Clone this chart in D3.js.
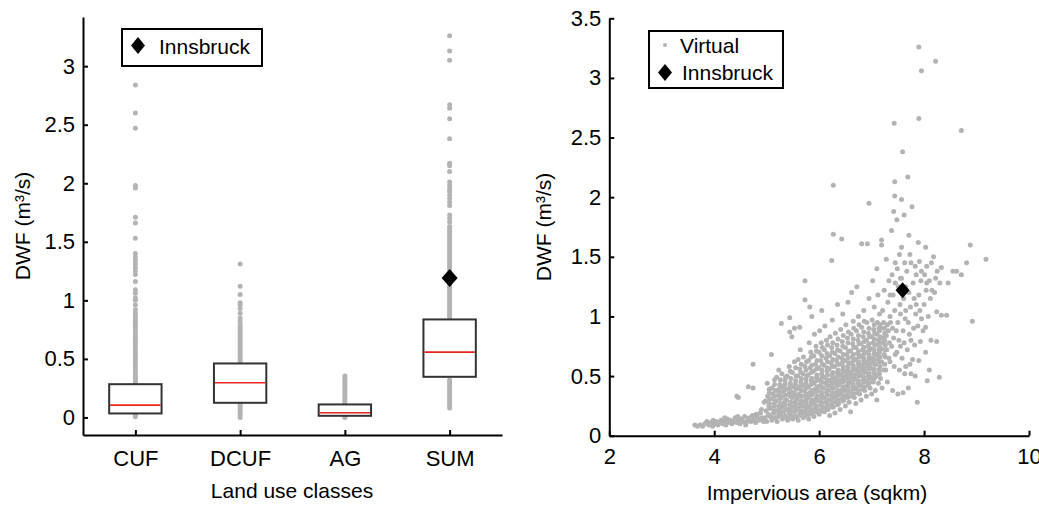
<!DOCTYPE html>
<html>
<head>
<meta charset="utf-8">
<script src="https://cdn.jsdelivr.net/npm/d3@7"></script>
<style>
    body { margin: 0; background: #fff; }
    svg text { font-family: Arial, "Liberation Sans", Helvetica, sans-serif; }
</style>
</head>
<body>
<svg id="chart" width="1039" height="506"></svg>
<script>

// ---- left panel: box plot per land use class
var categories = ["CUF", "DCUF", "AG", "SUM"];
var boxQ1 = [0.034, 0.125, 0.014, 0.347];
var boxMedian = [0.105, 0.296, 0.040, 0.558];
var boxQ3 = [0.284, 0.461, 0.111, 0.837];

// grey points outside the boxes, one list per class
var cufPoints = [0.005, 0.015, 0.025, 0.03,
    0.29, 0.31, 0.33, 0.35, 0.37, 0.39, 0.41, 0.43, 0.45, 0.47, 0.49, 0.51, 0.53, 0.55, 0.57, 0.59,
    0.61, 0.63, 0.65, 0.67, 0.69, 0.71, 0.73, 0.75, 0.77, 0.79, 0.81, 0.83, 0.85, 0.87, 0.89,
    0.92, 0.96, 1.00, 1.02, 1.06, 1.09, 1.16, 1.22, 1.25, 1.28, 1.31, 1.34, 1.37, 1.40,
    1.53, 1.66, 1.71, 1.96, 1.98, 2.47, 2.60, 2.84];
var dcufPoints = [0.0, 0.02, 0.04, 0.06, 0.08, 0.10, 0.12,
    0.47, 0.49, 0.51, 0.53, 0.55, 0.57, 0.59, 0.61, 0.63, 0.65, 0.67, 0.69, 0.71, 0.73, 0.75, 0.77, 0.79,
    0.82, 0.85, 0.89, 0.93, 0.96, 0.98, 1.05, 1.12, 1.31];
var agPoints = [0.0, 0.008,
    0.12, 0.14, 0.16, 0.18, 0.20, 0.22, 0.24, 0.26, 0.28, 0.30, 0.32, 0.34, 0.353];
var sumPoints = [0.08, 0.10, 0.12, 0.14, 0.16, 0.18, 0.20, 0.22, 0.24, 0.26, 0.28, 0.30, 0.32,
    0.85, 0.87, 0.89, 0.91, 0.93, 0.95, 0.97, 0.99, 1.01, 1.03, 1.05, 1.07, 1.09, 1.11, 1.13, 1.15,
    1.17, 1.19, 1.21, 1.23, 1.25, 1.27, 1.29, 1.31, 1.33, 1.35, 1.37, 1.39, 1.41, 1.43, 1.45, 1.47,
    1.49, 1.51, 1.53, 1.55, 1.57, 1.59, 1.61, 1.63,
    1.67, 1.70, 1.73, 1.81, 1.84, 1.87, 1.90, 1.93, 1.95, 1.98, 2.01, 2.10, 2.15, 2.17,
    2.38, 2.55, 2.64, 2.67, 3.05, 3.13, 3.26];
var classPoints = [cufPoints, dcufPoints, agPoints, sumPoints];

var innsbruckClass = "SUM";
var innsbruckDwf = 1.19;
var innsbruckArea = 7.59;
var innsbruckDwfRight = 1.22;

var boxTicks = [0, 0.5, 1, 1.5, 2, 2.5, 3];
var dwfTicks = [0, 0.5, 1, 1.5, 2, 2.5, 3, 3.5];
var areaTicks = [2, 4, 6, 8, 10];

// ---- right panel: virtual catchments [impervious area, DWF]
var virtualPoints = [
    [3.63,0.09],[3.68,0.08],[3.73,0.09],[3.78,0.08],[3.82,0.10],[3.86,0.12],[3.90,0.09],[3.94,0.11],
    [3.97,0.08],[3.98,0.13],[4.01,0.10],[4.04,0.12],[4.07,0.09],[4.10,0.11],[4.13,0.13],[4.16,0.10],
    [4.19,0.12],[4.20,0.15],[4.22,0.09],[4.25,0.14],[4.28,0.11],[4.31,0.13],[4.34,0.10],[4.37,0.12],
    [4.40,0.15],[4.43,0.11],[4.45,0.16],[4.46,0.13],[4.49,0.10],[4.50,0.12],[4.52,0.14],[4.55,0.12],
    [4.58,0.16],[4.60,0.09],[4.61,0.11],[4.64,0.13],[4.67,0.15],[4.70,0.12],[4.73,0.17],[4.76,0.14],
    [4.79,0.11],[4.80,0.18],[4.82,0.16],[4.85,0.13],[4.88,0.19],[4.91,0.15],[4.94,0.12],
    [4.43,0.33],[4.46,0.32],[4.65,0.41],[4.74,0.40],[4.74,0.60],[4.90,0.22],[4.95,0.28],
    [5.00,0.12],[4.97,0.15],[5.03,0.18],[4.99,0.21],[5.04,0.25],[4.98,0.29],[5.02,0.33],[5.05,0.36],[5.01,0.44],
    [5.10,0.13],[5.07,0.16],[5.13,0.19],[5.09,0.23],[5.14,0.27],[5.08,0.31],[5.12,0.35],[5.10,0.40],[5.15,0.47],[5.09,0.68],
    [5.20,0.12],[5.17,0.15],[5.23,0.18],[5.19,0.21],[5.24,0.25],[5.18,0.29],[5.22,0.34],[5.20,0.38],[5.25,0.43],[5.19,0.49],[5.23,0.55],
    [5.30,0.14],[5.27,0.17],[5.33,0.20],[5.29,0.24],[5.34,0.28],[5.28,0.32],[5.32,0.37],[5.30,0.41],[5.35,0.46],[5.29,0.52],[5.28,0.94],
    [5.40,0.13],[5.37,0.16],[5.43,0.19],[5.39,0.22],[5.44,0.26],[5.38,0.30],[5.42,0.35],[5.40,0.39],[5.45,0.44],[5.39,0.50],[5.43,0.58],[5.44,0.87],[5.44,0.99],
    [5.50,0.14],[5.47,0.17],[5.53,0.20],[5.49,0.24],[5.54,0.28],[5.48,0.32],[5.52,0.36],[5.50,0.41],[5.55,0.46],[5.49,0.53],[5.53,0.62],[5.48,0.83],[5.53,0.90],
    [5.60,0.13],[5.57,0.16],[5.63,0.19],[5.59,0.23],[5.64,0.27],[5.58,0.31],[5.62,0.35],[5.60,0.40],[5.65,0.45],[5.59,0.50],[5.63,0.56],[5.60,0.64],[5.64,0.72],[5.63,0.91],
    [5.70,0.15],[5.67,0.18],[5.73,0.21],[5.69,0.25],[5.74,0.29],[5.68,0.33],[5.72,0.38],[5.70,0.42],[5.75,0.47],[5.69,0.52],[5.73,0.58],[5.70,0.66],[5.73,1.14],[5.73,1.30],
    [5.80,0.14],[5.77,0.17],[5.83,0.20],[5.79,0.24],[5.84,0.28],[5.78,0.32],[5.82,0.36],[5.80,0.41],[5.85,0.46],[5.79,0.51],[5.83,0.57],[5.80,0.63],[5.84,0.70],[5.81,0.78],[5.82,1.08],
    [5.90,0.16],[5.87,0.19],[5.93,0.23],[5.89,0.27],[5.94,0.31],[5.88,0.35],[5.92,0.39],[5.90,0.44],[5.95,0.49],[5.89,0.54],[5.93,0.60],[5.90,0.67],[5.94,0.75],[5.91,0.85],[5.86,1.00],
    [6.00,0.18],[5.97,0.22],[6.03,0.26],[5.99,0.30],[6.04,0.34],[5.98,0.38],[6.02,0.42],[6.00,0.47],[6.05,0.52],[5.99,0.57],[6.03,0.63],[6.00,0.70],[6.04,0.78],[6.01,0.88],[6.05,1.05],
    [6.10,0.20],[6.07,0.24],[6.13,0.28],[6.09,0.32],[6.14,0.36],[6.08,0.40],[6.12,0.44],[6.10,0.49],[6.15,0.54],[6.09,0.59],[6.13,0.65],[6.10,0.72],[6.14,0.80],[6.11,0.92],
    [6.20,0.17],[6.17,0.22],[6.23,0.26],[6.19,0.30],[6.24,0.34],[6.18,0.38],[6.22,0.42],[6.20,0.46],[6.25,0.51],[6.19,0.56],[6.23,0.61],[6.20,0.67],[6.24,0.74],[6.21,0.83],[6.25,0.97],[6.24,1.47],
    [6.30,0.19],[6.27,0.24],[6.33,0.28],[6.29,0.32],[6.34,0.36],[6.28,0.40],[6.32,0.44],[6.30,0.48],[6.35,0.53],[6.29,0.58],[6.33,0.63],[6.30,0.69],[6.34,0.76],[6.31,0.86],[6.35,1.10],[6.27,1.69],[6.27,2.10],
    [6.40,0.22],[6.37,0.27],[6.43,0.31],[6.39,0.35],[6.44,0.39],[6.38,0.43],[6.42,0.47],[6.40,0.51],[6.45,0.55],[6.39,0.60],[6.43,0.65],[6.40,0.71],[6.44,0.79],[6.41,0.89],[6.45,1.02],[6.43,1.65],
    [6.50,0.25],[6.47,0.30],[6.53,0.34],[6.49,0.38],[6.54,0.42],[6.48,0.46],[6.52,0.50],[6.50,0.54],[6.55,0.58],[6.49,0.63],[6.53,0.68],[6.50,0.74],[6.54,0.82],[6.51,0.93],[6.55,1.12],
    [6.60,0.20],[6.57,0.28],[6.63,0.33],[6.59,0.37],[6.64,0.41],[6.58,0.45],[6.62,0.49],[6.60,0.53],[6.65,0.57],[6.59,0.61],[6.63,0.66],[6.60,0.71],[6.64,0.77],[6.61,0.85],[6.65,0.96],[6.62,1.20],
    [6.70,0.27],[6.67,0.32],[6.73,0.36],[6.69,0.40],[6.74,0.44],[6.68,0.48],[6.72,0.52],[6.70,0.56],[6.75,0.60],[6.69,0.64],[6.73,0.69],[6.70,0.74],[6.74,0.80],[6.71,0.88],[6.75,1.00],[6.72,1.25],
    [6.80,0.30],[6.77,0.35],[6.83,0.39],[6.79,0.43],[6.84,0.47],[6.78,0.51],[6.82,0.55],[6.80,0.59],[6.85,0.63],[6.79,0.67],[6.83,0.72],[6.80,0.77],[6.84,0.83],[6.81,0.91],[6.85,1.05],[6.81,1.61],
    [6.90,0.33],[6.87,0.38],[6.93,0.42],[6.89,0.46],[6.94,0.50],[6.88,0.54],[6.92,0.58],[6.90,0.62],[6.95,0.66],[6.89,0.70],[6.93,0.75],[6.90,0.80],[6.94,0.86],[6.91,0.95],[6.95,1.15],[6.92,1.61],
    [7.00,0.35],[6.97,0.40],[7.03,0.45],[6.99,0.49],[7.04,0.53],[6.98,0.57],[7.02,0.61],[7.00,0.65],[7.05,0.69],[6.99,0.73],[7.03,0.78],[7.00,0.83],[7.04,0.89],[7.01,0.97],[7.05,1.08],[7.02,1.30],[6.95,1.95],
    [7.10,0.30],[7.07,0.38],[7.13,0.44],[7.09,0.50],[7.14,0.55],[7.08,0.60],[7.12,0.64],[7.10,0.68],[7.15,0.72],[7.09,0.76],[7.13,0.80],[7.10,0.85],[7.14,0.90],[7.11,0.95],[7.15,1.02],[7.12,1.18],[7.10,1.40],
    [7.20,0.40],[7.17,0.48],[7.23,0.55],[7.19,0.62],[7.24,0.68],[7.18,0.73],[7.22,0.78],[7.20,0.82],[7.25,0.86],[7.19,0.90],[7.23,0.95],[7.21,1.05],[7.24,1.22],[7.19,1.60],[7.19,1.64],
    [7.30,0.45],[7.27,0.55],[7.33,0.65],[7.29,0.72],[7.34,0.78],[7.28,0.84],[7.32,0.88],[7.30,0.93],[7.35,1.00],[7.31,1.12],[7.33,1.30],[7.28,1.48],
    [7.40,0.38],[7.43,0.58],[7.38,0.75],[7.42,0.82],[7.40,0.90],[7.44,1.05],[7.41,1.18],[7.39,1.35],[7.38,1.72],[7.42,1.88],[7.44,2.01],[7.44,2.13],[7.43,2.62],
    [7.50,0.35],[7.53,0.55],[7.48,0.70],[7.52,0.80],[7.50,0.95],[7.54,1.10],[7.51,1.25],[7.49,1.40],[7.53,1.52],[7.48,1.81],
    [7.60,0.36],[7.63,0.52],[7.58,0.65],[7.62,0.78],[7.60,0.88],[7.64,0.98],[7.61,1.15],[7.57,1.32],[7.63,1.45],[7.57,1.58],[7.62,1.85],[7.57,1.98],[7.59,2.38],
    [7.70,0.40],[7.73,0.60],[7.68,0.72],[7.72,0.85],[7.70,0.95],[7.74,1.08],[7.71,1.20],[7.67,1.38],[7.73,1.52],[7.71,1.68],[7.69,2.17],
    [7.87,0.28],[7.83,0.50],[7.78,0.64],[7.82,0.76],[7.80,0.90],[7.84,1.02],[7.81,1.15],[7.79,1.28],[7.83,1.42],[7.77,1.92],
    [7.90,0.63],[7.93,0.79],[7.88,0.92],[7.92,1.05],[7.90,1.18],[7.94,1.30],[7.91,1.46],[7.89,1.62],[7.90,2.66],[7.90,3.26],
    [8.06,0.46],[8.03,0.70],[7.98,0.88],[8.03,0.91],[8.00,1.10],[8.04,1.22],[8.01,1.35],[8.03,1.58],[7.95,3.06],
    [8.10,0.55],[8.13,0.80],[8.08,1.00],[8.12,1.15],[8.10,1.30],[8.14,1.45],
    [8.24,0.79],[8.24,1.04],[8.20,1.20],[8.22,1.32],[8.18,1.50],[8.22,3.14],
    [8.29,0.49],[8.33,1.01],[8.30,1.28],[8.33,1.41],[8.43,1.01],[8.46,1.28],
    [8.55,1.38],[8.62,1.38],[8.71,1.35],[8.71,2.56],[8.81,1.45],[8.92,0.96],[8.88,1.60],[9.18,1.48]
];

// the dense core of the cloud, read strip by strip between the points above
var virtualCore = [
    [5.05,0.17],[5.06,0.23],[5.05,0.27],[5.06,0.31],[5.05,0.39],
    [5.15,0.15],[5.16,0.21],[5.15,0.25],[5.16,0.29],[5.15,0.33],[5.16,0.38],[5.15,0.43],
    [5.25,0.16],[5.26,0.20],[5.25,0.23],[5.26,0.27],[5.25,0.31],[5.26,0.36],[5.25,0.40],[5.26,0.47],
    [5.35,0.16],[5.36,0.22],[5.35,0.26],[5.36,0.30],[5.35,0.34],[5.36,0.39],[5.35,0.43],[5.36,0.49],
    [5.45,0.15],[5.46,0.21],[5.45,0.24],[5.46,0.28],[5.45,0.33],[5.46,0.37],[5.45,0.41],[5.46,0.48],[5.45,0.54],
    [5.55,0.16],[5.56,0.22],[5.55,0.26],[5.56,0.30],[5.55,0.34],[5.56,0.39],[5.55,0.43],[5.56,0.50],[5.55,0.57],
    [5.65,0.17],[5.66,0.21],[5.65,0.25],[5.66,0.29],[5.65,0.33],[5.66,0.38],[5.65,0.42],[5.66,0.48],[5.65,0.53],[5.66,0.60],
    [5.75,0.19],[5.76,0.23],[5.75,0.27],[5.76,0.31],[5.75,0.35],[5.76,0.40],[5.75,0.44],[5.76,0.50],[5.75,0.55],[5.76,0.62],
    [5.85,0.18],[5.86,0.22],[5.85,0.26],[5.86,0.30],[5.85,0.34],[5.86,0.38],[5.85,0.43],[5.86,0.48],[5.85,0.53],[5.86,0.59],[5.85,0.66],
    [5.95,0.20],[5.96,0.25],[5.95,0.29],[5.96,0.33],[5.95,0.37],[5.96,0.41],[5.95,0.46],[5.96,0.51],[5.95,0.56],[5.96,0.63],[5.95,0.71],
    [6.05,0.21],[6.06,0.24],[6.05,0.28],[6.06,0.32],[6.05,0.36],[6.06,0.40],[6.05,0.45],[6.06,0.49],[6.05,0.55],[6.06,0.60],[6.05,0.67],[6.06,0.74],
    [6.15,0.23],[6.16,0.26],[6.15,0.30],[6.16,0.34],[6.15,0.38],[6.16,0.42],[6.15,0.47],[6.16,0.51],[6.15,0.57],[6.16,0.62],[6.15,0.69],[6.16,0.76],
    [6.25,0.24],[6.26,0.28],[6.25,0.32],[6.26,0.36],[6.25,0.40],[6.26,0.44],[6.25,0.48],[6.26,0.53],[6.25,0.58],[6.26,0.64],[6.25,0.70],[6.26,0.78],
    [6.35,0.26],[6.36,0.30],[6.35,0.34],[6.36,0.38],[6.35,0.42],[6.36,0.46],[6.35,0.50],[6.36,0.55],[6.35,0.60],[6.36,0.66],[6.35,0.72],[6.36,0.81],
    [6.45,0.29],[6.46,0.33],[6.45,0.37],[6.46,0.41],[6.45,0.45],[6.46,0.49],[6.45,0.53],[6.46,0.58],[6.45,0.62],[6.46,0.68],[6.45,0.75],[6.46,0.84],
    [6.55,0.32],[6.56,0.36],[6.55,0.40],[6.56,0.44],[6.55,0.48],[6.56,0.52],[6.55,0.56],[6.56,0.61],[6.55,0.65],[6.56,0.71],[6.55,0.78],[6.56,0.87],
    [6.65,0.35],[6.66,0.39],[6.65,0.43],[6.66,0.47],[6.65,0.51],[6.66,0.55],[6.65,0.59],[6.66,0.63],[6.65,0.68],[6.66,0.74],[6.65,0.81],[6.66,0.90],
    [6.75,0.38],[6.76,0.42],[6.75,0.46],[6.76,0.50],[6.75,0.54],[6.76,0.58],[6.75,0.62],[6.76,0.66],[6.75,0.71],[6.76,0.77],[6.75,0.84],[6.76,0.93],
    [6.85,0.41],[6.86,0.45],[6.85,0.49],[6.86,0.53],[6.85,0.57],[6.86,0.61],[6.85,0.65],[6.86,0.69],[6.85,0.74],[6.86,0.79],[6.85,0.87],[6.86,0.96],
    [6.95,0.44],[6.96,0.48],[6.95,0.52],[6.96,0.56],[6.95,0.60],[6.96,0.64],[6.95,0.68],[6.96,0.72],[6.95,0.77],[6.96,0.83],[6.95,0.90],
    [7.05,0.48],[7.06,0.52],[7.05,0.56],[7.06,0.60],[7.05,0.64],[7.06,0.68],[7.05,0.72],[7.06,0.76],[7.05,0.81],[7.06,0.86],[7.05,0.93],
    [7.15,0.52],[7.16,0.58],[7.15,0.62],[7.16,0.66],[7.15,0.70],[7.16,0.74],[7.15,0.78],[7.16,0.83],[7.15,0.88],[7.16,0.93],
    [7.25,0.60],[7.26,0.66],[7.25,0.72],[7.26,0.76],[7.25,0.80],[7.26,0.84],[7.25,0.90],
    [7.35,0.62],[7.45,0.68],[7.36,0.95],[7.47,0.88],[7.55,1.02],[7.65,1.25],[7.75,0.80],[7.85,1.10],
    [7.95,1.38],[8.05,1.28],[8.15,1.22],[8.25,1.38],[7.45,1.28],[7.55,1.32],[7.65,1.05],[7.75,1.45],
    [7.85,1.35],[7.95,0.98],[8.05,1.42],[7.35,1.18],[7.45,1.45],[7.55,0.75],[7.65,0.58],[7.75,0.52]
];

(function () {

    var svg = d3.select("#chart");
    var grey = "#b3b3b3";
    var fontSize = 21;
    var tickFontSize = 22;
    var dotRadius = 2.5;

    // diamond marker, a bit squatter than d3.symbolDiamond
    function diamond(w, h) {
        return "M0," + (-h) + "L" + w + ",0L0," + h + "L" + (-w) + ",0Z";
    }

    function styleAxis(g) {
        g.attr("font-size", tickFontSize).attr("font-family", null);
        g.select(".domain").attr("stroke-width", 2);
        g.selectAll(".tick line").attr("stroke-width", 2);
        g.selectAll(".tick text").attr("fill", "#000");
    }

    /* ---------- left panel ---------- */
    var xBox = d3.scaleLinear().domain([0.5, 4.5]).range([83, 502]);
    var yBox = d3.scaleLinear().domain([-0.15, 3.42]).range([435, 17]);

    var left = svg.append("g").attr("class", "boxPanel");

    categories.forEach(function (cat, i) {
        left.append("g")
            .selectAll("circle")
            .data(classPoints[i])
            .enter()
            .append("circle")
            .attr("cx", xBox(i + 1))
            .attr("cy", d => yBox(d))
            .attr("r", dotRadius)
            .attr("fill", grey);
    });

    var boxes = left.selectAll("g.box")
        .data(categories)
        .enter()
        .append("g")
        .attr("class", "box");
    boxes.append("rect")
        .attr("x", (d, i) => xBox(i + 1 - 0.25))
        .attr("width", xBox(1.25) - xBox(0.75))
        .attr("y", (d, i) => yBox(boxQ3[i]))
        .attr("height", (d, i) => yBox(boxQ1[i]) - yBox(boxQ3[i]))
        .attr("fill", "#fff")
        .attr("stroke", "#333")
        .attr("stroke-width", 2);
    boxes.append("line")
        .attr("x1", (d, i) => xBox(i + 1 - 0.25) + 1)
        .attr("x2", (d, i) => xBox(i + 1 + 0.25) - 1)
        .attr("y1", (d, i) => yBox(boxMedian[i]))
        .attr("y2", (d, i) => yBox(boxMedian[i]))
        .attr("stroke", "#e8261e")
        .attr("stroke-width", 1.6);

    left.append("path")
        .attr("d", diamond(8, 9))
        .attr("transform", "translate(" + xBox(categories.indexOf(innsbruckClass) + 1) + "," + yBox(innsbruckDwf) + ")")
        .attr("fill", "#000");

    left.append("g")
        .attr("transform", "translate(83,0)")
        .call(d3.axisLeft(yBox).tickValues(boxTicks).tickSize(-5).tickSizeOuter(0)
            .tickPadding(8).tickFormat(d => String(d)))
        .call(styleAxis);
    left.append("g")
        .attr("transform", "translate(0,435)")
        .call(d3.axisBottom(xBox).tickValues([1, 2, 3, 4]).tickSize(-5).tickSizeOuter(0)
            .tickPadding(15).tickFormat(d => categories[d - 1]))
        .call(styleAxis);

    left.append("text")
        .attr("x", 292)
        .attr("y", 498)
        .attr("text-anchor", "middle")
        .attr("font-size", fontSize)
        .text("Land use classes");
    left.append("text")
        .attr("transform", "translate(30,226) rotate(-90)")
        .attr("text-anchor", "middle")
        .attr("font-size", fontSize)
        .text("DWF (m\u00b3/s)");

    // legend
    var legL = left.append("g").attr("transform", "translate(122,29)");
    legL.append("rect")
        .attr("width", 140).attr("height", 37)
        .attr("fill", "#fff").attr("stroke", "#000").attr("stroke-width", 2);
    legL.append("path")
        .attr("d", diamond(7, 8.5))
        .attr("transform", "translate(16,16.5)")
        .attr("fill", "#000");
    legL.append("text")
        .attr("x", 37).attr("y", 24.5)
        .attr("font-size", fontSize)
        .text("Innsbruck");

    /* ---------- right panel ---------- */
    var xImp = d3.scaleLinear().domain([2, 10]).range([609.3, 1029]);
    var yDwf = d3.scaleLinear().domain([0, 3.5]).range([435.7, 18.3]);

    var right = svg.append("g").attr("class", "scatterPanel");

    right.append("g")
        .selectAll("circle")
        .data(virtualPoints.concat(virtualCore))
        .enter()
        .append("circle")
        .attr("cx", d => xImp(d[0]))
        .attr("cy", d => yDwf(d[1]))
        .attr("r", dotRadius)
        .attr("fill", grey);

    right.append("path")
        .attr("d", diamond(7, 8))
        .attr("transform", "translate(" + xImp(innsbruckArea) + "," + yDwf(innsbruckDwfRight) + ")")
        .attr("fill", "#000");

    right.append("g")
        .attr("transform", "translate(609.3,0)")
        .call(d3.axisLeft(yDwf).tickValues(dwfTicks).tickSize(-5).tickSizeOuter(0)
            .tickPadding(8).tickFormat(d => String(d)))
        .call(styleAxis);
    right.append("g")
        .attr("transform", "translate(0,435.7)")
        .call(d3.axisBottom(xImp).tickValues(areaTicks).tickSize(-5).tickSizeOuter(0)
            .tickPadding(13).tickFormat(d => String(d)))
        .call(styleAxis);

    right.append("text")
        .attr("x", 817)
        .attr("y", 500)
        .attr("text-anchor", "middle")
        .attr("font-size", fontSize)
        .text("Impervious area (sqkm)");
    right.append("text")
        .attr("transform", "translate(551,227) rotate(-90)")
        .attr("text-anchor", "middle")
        .attr("font-size", fontSize)
        .text("DWF (m\u00b3/s)");

    var legR = right.append("g").attr("transform", "translate(649,31)");
    legR.append("rect")
        .attr("width", 134).attr("height", 57)
        .attr("fill", "#fff").attr("stroke", "#000").attr("stroke-width", 2);
    legR.append("circle")
        .attr("cx", 16).attr("cy", 14)
        .attr("r", 2).attr("fill", grey);
    legR.append("text")
        .attr("x", 31).attr("y", 22)
        .attr("font-size", fontSize)
        .text("Virtual");
    legR.append("path")
        .attr("d", diamond(7, 8.5))
        .attr("transform", "translate(16,41.5)")
        .attr("fill", "#000");
    legR.append("text")
        .attr("x", 33).attr("y", 49)
        .attr("font-size", fontSize)
        .text("Innsbruck");

})();
</script>
</body>
</html>
